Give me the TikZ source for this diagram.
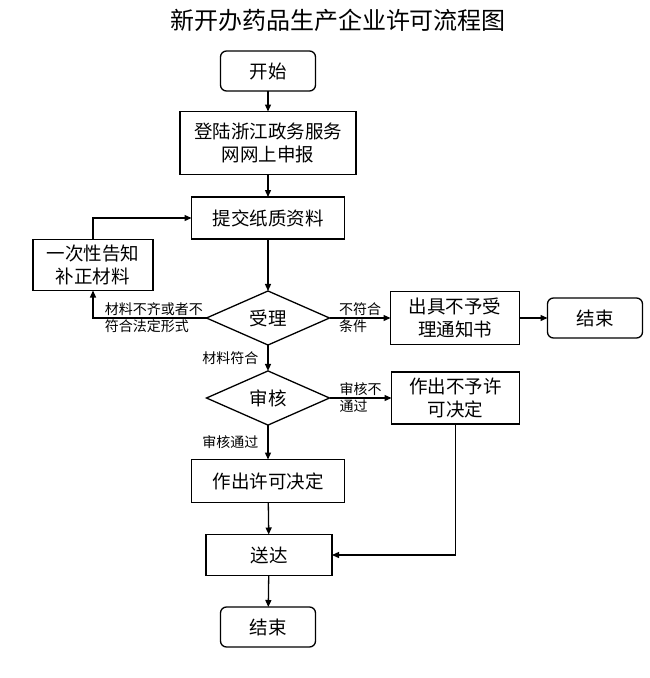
\documentclass[tikz,border=0pt]{standalone}
\usepackage{fontspec}
\setmainfont{Noto Sans CJK SC}
\usetikzlibrary{arrows.meta,shapes.geometric,positioning}

\begin{document}
\begin{tikzpicture}[
    x = 1pt, y = -1pt, % pixel grid, y pointing down
    > = {Triangle[length=7pt,width=6pt]}, % arrow head style
    line width = 1.3pt, % line style
    node distance = 21pt, % distance between nodes
    font = \fontsize{18.5pt}{23pt}\selectfont
    ]

    \tikzset{
    box/.style = {draw, rectangle, inner sep = 0pt, outer sep = 0pt, align = center},
    term/.style = {box, rounded corners = 6pt, minimum width = 95pt, minimum height = 40pt},
    check/.style = {draw, diamond, inner sep = 0pt, outer sep = 0pt, minimum width = 123pt, minimum height = 51pt},
    lbl/.style = {font = \fontsize{14pt}{17pt}\selectfont, align = left, inner sep = 1pt}
    }

    \useasboundingbox (0,0) rectangle (650,678);

    \node (title) at (338,20) {\fontsize{24pt}{28pt}\selectfont 新开办药品生产企业许可流程图};

    \node[term] (start) at (268,71) {开始};
    \node[box, minimum width=176pt, minimum height=63pt] (login) at (268,143) {登陆浙江政务服务\\网网上申报};
    \node[box, minimum width=153pt, minimum height=42pt] (submit) at (268,218) {提交纸质资料};
    \node[check] (accept) at (268,318) {受理};
    \node[check] (review) at (268,398) {审核};
    \node[box, minimum width=153pt, minimum height=43pt] (permit) at (268,481) {作出许可决定};
    \node[box, minimum width=126pt, minimum height=41pt] (deliver) at (269,555) {送达};
    \node[term] (end1) at (268,627) {结束};

    \node[box, minimum width=120pt, minimum height=51pt] (notify) at (93,265) {一次性告知\\补正材料};
    \node[box, minimum width=129pt, minimum height=53pt] (reject) [right=61pt of accept] {出具不予受\\理通知书};
    \node[term] (end2) [right=28pt of reject] {结束};
    \node[box, minimum width=128pt, minimum height=52pt] (denial) [right=62pt of review] {作出不予许\\可决定};

    \path[->] (start) edge (login);
    \path[->] (login) edge (submit);
    \path[->] (submit) edge (accept);
    \path[->] (accept) edge node[lbl, left=8pt] {材料符合} (review);
    \path[->] (accept) edge node[lbl] {不符合\\条件} (reject);
    \path[->] (reject) edge (end2);
    \path[->] (review) edge node[lbl] {审核不\\通过} (denial);
    \path[->] (review) edge node[lbl, left=8pt] {审核通过} (permit);
    \path[->] (permit) edge (deliver);
    \path[->] (deliver) edge (end1);

    \draw[->] (accept.west) -| node[lbl, pos=0.25, xshift=4pt] {材料不齐或者不\\符合法定形式} (notify.south);
    \draw[->] (notify.north) |- (submit.west);
    \draw[->] (denial.south) |- (deliver.east);
\end{tikzpicture}
\end{document}
